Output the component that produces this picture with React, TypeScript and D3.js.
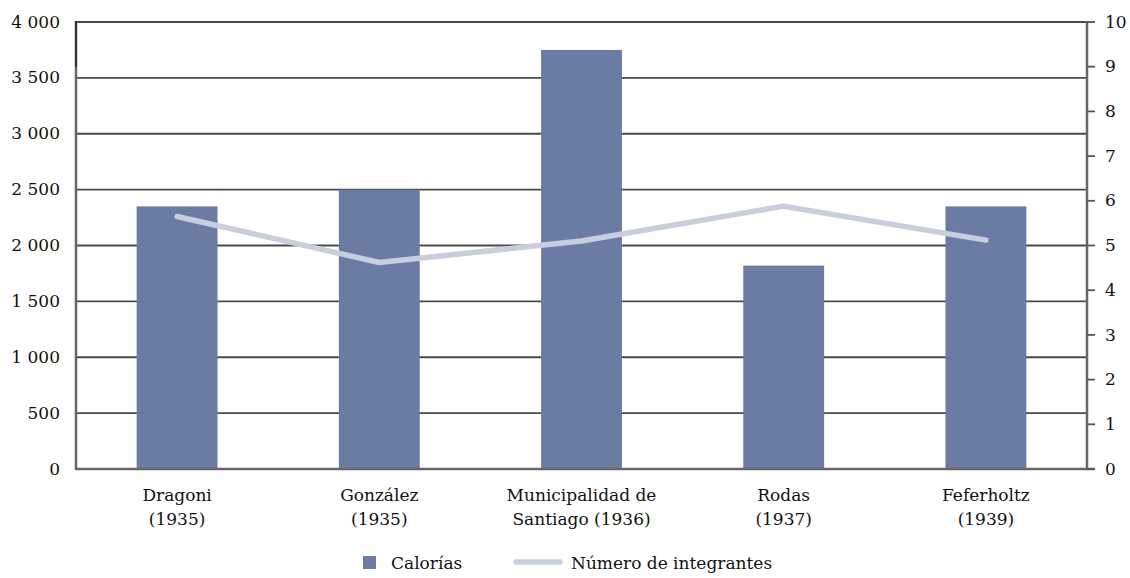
import React from 'react';
import * as d3 from 'd3';

const categories = [
  ['Dragoni', '(1935)'],
  ['González', '(1935)'],
  ['Municipalidad de', 'Santiago (1936)'],
  ['Rodas', '(1937)'],
  ['Feferholtz', '(1939)'],
];
const calorias = [2350, 2500, 3750, 1820, 2350];
const integrantes = [5.65, 4.62, 5.1, 5.88, 5.12];
const leftTicks = [0, 500, 1000, 1500, 2000, 2500, 3000, 3500, 4000];
const rightTicks = [0, 1, 2, 3, 4, 5, 6, 7, 8, 9, 10];

const W = 1130;
const H = 578;
const left = 76;
const right = 1087;
const top = 22;
const bottom = 469;
const font = '"DejaVu Serif", serif';
const txt = '#111';

export default function App() {
  const x = d3.scaleBand<number>()
    .domain(d3.range(categories.length))
    .range([left, right])
    .paddingInner(0.6)
    .paddingOuter(0.3);
  const yL = d3.scaleLinear().domain([0, 4000]).range([bottom, top]);
  const yR = d3.scaleLinear().domain([0, 10]).range([bottom, top]);

  const line = d3.line<number>()
    .x((_, i) => x(i)! + x.bandwidth() / 2)
    .y(d => yR(d));

  const fmt = (v: number) => d3.format(',')(v).replace(',', ' ');

  return (
    <svg width={W} height={H} style={{ position: 'absolute', left: 0, top: 0, background: '#fff' }}
      fontFamily={font}>
      {/* gridlines */}
      {leftTicks.map(t => (
        <line key={t} x1={left} x2={right} y1={yL(t)} y2={yL(t)} stroke="#4a4a4a" strokeWidth={1.8} />
      ))}
      {/* left labels */}
      {leftTicks.map(t => (
        <text key={t} x={left - 16} y={yL(t)} dy="0.33em" textAnchor="end" fontSize={17} fill={txt}>
          {fmt(t)}
        </text>
      ))}
      {/* bars */}
      {calorias.map((v, i) => (
        <rect key={i} x={x(i)} y={yL(v)} width={x.bandwidth()} height={bottom - yL(v)} fill="#6a7ca3" />
      ))}
      {/* axes */}
      <line x1={left} x2={left} y1={top - 1} y2={bottom + 1} stroke="#666" strokeWidth={2.5} />
      <line x1={left} x2={left} y1={top - 1} y2={67} stroke="#222" strokeWidth={1.5} />
      <line x1={right} x2={right} y1={top - 1} y2={bottom + 1} stroke="#666" strokeWidth={2.5} />
      <line x1={left} x2={right + 8} y1={bottom} y2={bottom} stroke="#666" strokeWidth={2.5} />
      {rightTicks.map(t => (
        <g key={t}>
          <line x1={right} x2={right + 8} y1={yR(t)} y2={yR(t)} stroke="#555" strokeWidth={1.8} />
          <text x={right + 18} y={yR(t)} dy="0.33em" fontSize={17} fill={txt}>{t}</text>
        </g>
      ))}
      {/* line series */}
      <path d={line(integrantes)!} fill="none" stroke="#c8cedd" strokeWidth={5.5}
        strokeLinecap="round" strokeLinejoin="round" />
      {/* category labels */}
      {categories.map((c, i) => (
        <text key={i} x={x(i)! + x.bandwidth() / 2} textAnchor="middle" fontSize={17} fill={txt}>
          <tspan x={x(i)! + x.bandwidth() / 2} y={501}>{c[0]}</tspan>
          <tspan x={x(i)! + x.bandwidth() / 2} y={525}>{c[1]}</tspan>
        </text>
      ))}
      {/* legend */}
      <rect x={363} y={556} width={13} height={13} fill="#6a7ca3" />
      <text x={391} y={569} fontSize={17} fill={txt}>Calorías</text>
      <line x1={516} x2={560} y1={562} y2={562} stroke="#c8cedd" strokeWidth={5.5} strokeLinecap="round" />
      <text x={571} y={569} fontSize={17} fill={txt}>Número de integrantes</text>
    </svg>
  );
}
